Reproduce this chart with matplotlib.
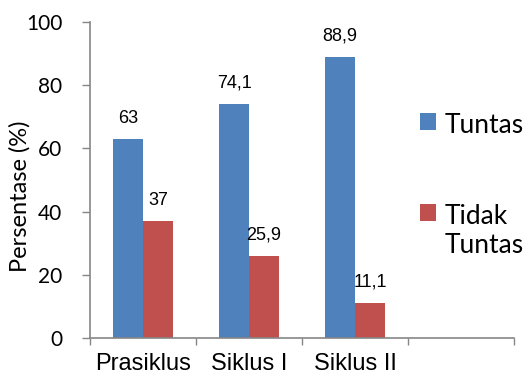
import numpy as np
import matplotlib
matplotlib.use("Agg")
import matplotlib.pyplot as plt

# data
kategori = ["Prasiklus", "Siklus I", "Siklus II", ""]
tuntas = [63, 74.1, 88.9]
tidak_tuntas = [37, 25.9, 11.1]
label_tuntas = ["63", "74,1", "88,9"]
label_tidak = ["37", "25,9", "11,1"]

biru = "#4F81BD"
merah = "#C0504D"
abu = "#868686"

fig = plt.figure(figsize=(5.28, 3.77), dpi=100)
ax = fig.add_axes([0.1705, 0.1034, 0.803, 0.8382])

x = np.arange(len(tuntas))
w = 0.283
b1 = ax.bar(x - w / 2, tuntas, w, color=biru, label="Tuntas")
b2 = ax.bar(x + w / 2, tidak_tuntas, w, color=merah, label="Tidak\nTuntas")

for bars, teks in [(b1, label_tuntas), (b2, label_tidak)]:
    for bar, t in zip(bars, teks):
        ax.annotate(t, (bar.get_x() + bar.get_width() / 2, bar.get_height()),
                    xytext=(0, 15), textcoords="offset points",
                    ha="center", va="center", fontsize=13,
                    family="Liberation Sans")

ax.set_xlim(-0.5, len(kategori) - 0.5)
ax.set_ylim(0, 100)
ax.set_yticks(range(0, 101, 20))
ax.set_xticks(range(len(kategori)))
ax.set_xticklabels(kategori, family="Liberation Sans", fontsize=17)
ax.set_xticks(np.arange(-0.5, len(kategori), 1), minor=True)
ax.tick_params(axis="x", which="major", length=0, pad=11)
ax.tick_params(axis="x", which="minor", length=5, width=1, color=abu, direction="out")
ax.tick_params(axis="y", length=6, width=1, color=abu, pad=14)
for lbl in ax.get_yticklabels():
    lbl.set_family("Lato")
    lbl.set_fontsize(15)

for s in ["top", "right"]:
    ax.spines[s].set_visible(False)
for s in ["left", "bottom"]:
    ax.spines[s].set_color(abu)
    ax.spines[s].set_linewidth(1.2)

ax.set_ylabel("Persentase (%)", family="Lato", fontsize=17)
ax.yaxis.set_label_coords(-0.14, 0.45)

leg = fig.legend(loc="upper left", bbox_to_anchor=(0.795, 0.70), frameon=False,
                 prop={"family": "Lato", "size": 19}, borderpad=0,
                 borderaxespad=0, handlelength=0.63, handleheight=0.6,
                 handletextpad=0.33, labelspacing=2.5)
for col in leg._legend_handle_box.get_children():
    for row in col.get_children():
        row.align = "top"

fig.savefig("out.png", dpi=100)
